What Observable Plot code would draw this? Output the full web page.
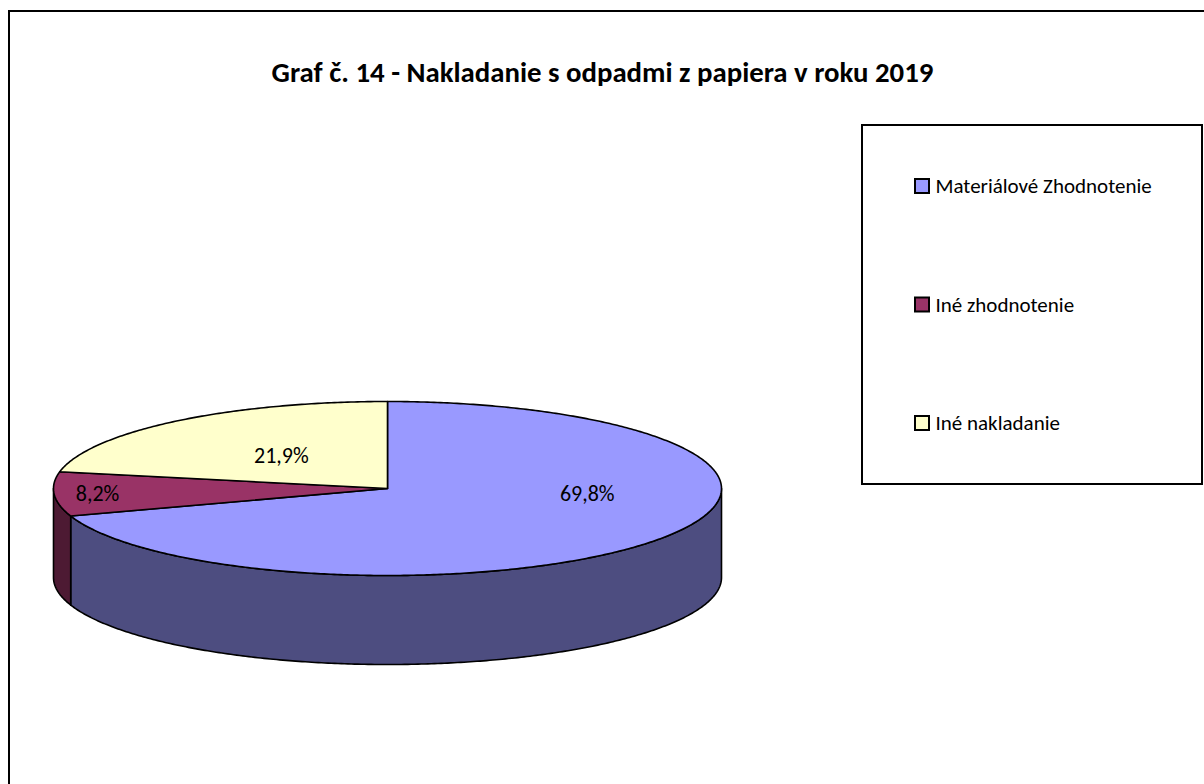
<!DOCTYPE html>
<html>
<head>
<meta charset="utf-8">
<script src="https://cdn.jsdelivr.net/npm/d3@7"></script>
<script src="https://cdn.jsdelivr.net/npm/@observablehq/plot@0.6"></script>
<style>
  html, body { margin: 0; padding: 0; background: #fff; overflow: hidden; }
  #chart svg { display: block; }
</style>
</head>
<body>
<div id="chart"></div>
<script>
// ---- Data ----
const title = "Graf č. 14 - Nakladanie s odpadmi z papiera v roku 2019";
const categories = ["Materiálové Zhodnotenie", "Iné zhodnotenie", "Iné nakladanie"];
const shares = [69.8, 8.2, 21.9];
const shareLabels = ["69,8%", "8,2%", "21,9%"];

// ---- Styles ----
const topColors = ["#9999FF", "#993366", "#FFFFCC"];
const sideColors = ["#4D4D80", "#4D1A33", "#80806A"];
const FONT = "Carlito, Calibri, Lato, 'Open Sans', sans-serif";

// ---- Layout (pixel space) ----
const W = 1204, H = 784;
const pie = {cx: 387, cy: 488, rx: 334, ry: 87, depth: 89};

const total = d3.sum(shares);
let acc = 0;
const slices = shares.map((v, i) => {
  const a0 = acc / total * 2 * Math.PI;
  acc += v;
  const a1 = acc / total * 2 * Math.PI;
  return {i, a0, a1, mid: (a0 + a1) / 2, share: v / total};
});

const px = a => pie.cx + pie.rx * Math.sin(a);
const py = a => pie.cy - pie.ry * Math.cos(a);
function arc(a0, a1, dy = 0) {
  const n = Math.max(2, Math.ceil((a1 - a0) / 0.01));
  return d3.range(n + 1).map(k => {
    const a = a0 + (a1 - a0) * k / n;
    return {x: px(a), y: py(a) + dy};
  });
}

// top faces
const tops = slices.map(s => [{x: pie.cx, y: pie.cy}, ...arc(s.a0, s.a1)]);
// visible side walls (front half: PI/2 .. 3PI/2)
const sides = slices.map(s => {
  const a = Math.max(s.a0, Math.PI / 2), b = Math.min(s.a1, 3 * Math.PI / 2);
  if (b <= a) return null;
  return [...arc(a, b), ...arc(a, b, pie.depth).reverse()];
});

// label positions derived from slice angles
const labelPts = slices.map(s => {
  const f = s.share < 0.1 ? 0.87 : (s.share > 0.5 ? 0.6 : 0.5);
  const ang = s.share > 0.5 ? s.a0 + (s.a1 - s.a0) * 0.376 : s.mid;
  return {x: pie.cx + f * pie.rx * Math.sin(ang), y: pie.cy - f * pie.ry * Math.cos(ang) + 1, text: shareLabels[s.i]};
});

const legendRows = categories.map((c, i) => ({c, i, y: 186 + i * 118.5, color: topColors[i]}));

const marks = [];
// outer chart frame
marks.push(Plot.rect([0], {x1: 9, x2: W + 20, y1: 11, y2: H + 20, fill: "white", stroke: "#000", strokeWidth: 2}));
// title
marks.push(Plot.text([title], {x: W / 2, y: 72, text: d => d, fontSize: 28.8, fontWeight: "bold", fontFamily: FONT, fill: "#000"}));
// side walls
sides.forEach((pts, i) => {
  if (!pts) return;
  marks.push(Plot.line(pts, {x: "x", y: "y", curve: "linear-closed", fill: sideColors[i], stroke: "#000", strokeWidth: 1.6}));
});
// top faces
tops.forEach((pts, i) => {
  marks.push(Plot.line(pts, {x: "x", y: "y", curve: "linear-closed", fill: topColors[i], stroke: "#000", strokeWidth: 1.6}));
});
// labels
marks.push(Plot.text(labelPts, {x: "x", y: "y", text: "text", fontSize: 22, fontFamily: FONT, fill: "#000"}));
// legend box
marks.push(Plot.rect([0], {x1: 862, x2: 1202, y1: 125, y2: 484, fill: "white", stroke: "#000", strokeWidth: 2}));
marks.push(Plot.rect(legendRows, {x1: 915, x2: 929, y1: d => d.y - 7, y2: d => d.y + 7, fill: "color", stroke: "#000", strokeWidth: 2}));
marks.push(Plot.text(legendRows, {x: 935, y: "y", text: "c", textAnchor: "start", fontSize: 21, fontFamily: FONT, fill: "#000"}));

const chart = Plot.plot({
  width: W, height: H,
  marginTop: 0, marginRight: 0, marginBottom: 0, marginLeft: 0,
  x: {domain: [0, W], range: [0, W], axis: null},
  y: {domain: [0, H], range: [0, H], axis: null},
  color: {type: "identity"},
  style: {background: "white", overflow: "hidden"},
  marks
});
document.getElementById("chart").appendChild(chart);
</script>
</body>
</html>
